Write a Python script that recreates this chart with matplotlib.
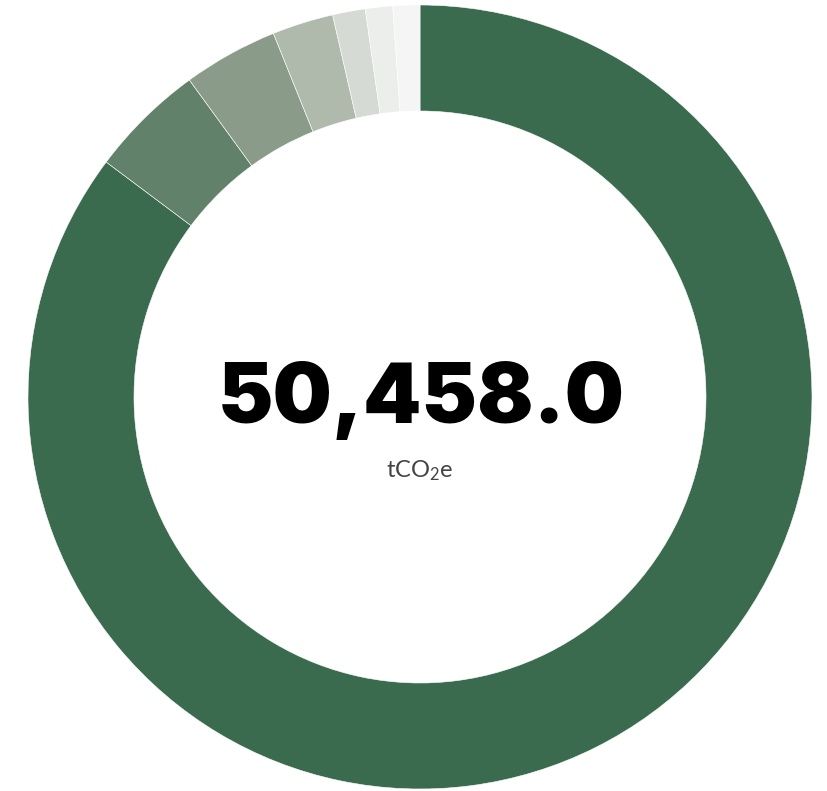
import matplotlib.pyplot as plt

plt.rcParams["mathtext.fontset"] = "custom"
plt.rcParams["mathtext.rm"] = "Lato"

# emission sources (tCO2e), largest first
sources = ["Source 1", "Source 2", "Source 3", "Source 4", "Source 5", "Source 6", "Source 7"]
values = [43005, 2402, 1973, 1272, 681, 565, 560]
colors = ["#3a6b4e", "#61816a", "#8a9c89", "#afbaad", "#d5dbd4", "#ebeeea", "#f5f5f5"]
total_label = "50,458.0"
unit_label = r"$\mathrm{tCO_2e}$"

W, H = 827, 791
fig = plt.figure(figsize=(W / 100, H / 100), dpi=100)
ax = fig.add_axes([0, 0, 1, 1])

cx, cy = 420, H - 397
ax.pie(
    values,
    colors=colors,
    center=(cx, cy),
    radius=392,
    startangle=90,
    counterclock=False,
    wedgeprops=dict(width=106, edgecolor="white", linewidth=0.4),
    frame=True,
)
ax.set_xlim(0, W)
ax.set_ylim(0, H)
ax.set_aspect("equal")
ax.axis("off")

ax.text(cx + 1, cy - 3, total_label, ha="center", va="center",
        fontsize=60, fontfamily="Inter", fontweight="black", color="black")
ax.text(cx, cy - 74, unit_label, ha="center", va="center",
        fontsize=17, color="#444444")

fig.savefig("out.png", dpi=100)
